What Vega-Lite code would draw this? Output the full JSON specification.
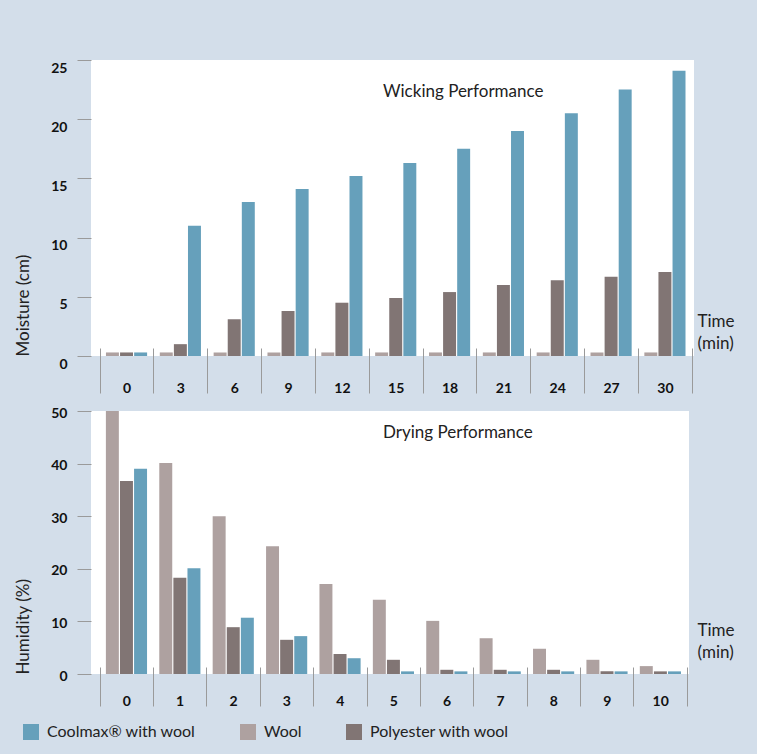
{
  "$schema": "https://vega.github.io/schema/vega-lite/v6.json",
  "background": "#d3deea",
  "padding": {"left": 14, "top": 59, "right": 30, "bottom": 20},
  "datasets": {
    "wicking": [
      {"time": 0, "fabric": "Coolmax® with wool", "value": 0.3},
      {"time": 0, "fabric": "Wool", "value": 0.3},
      {"time": 0, "fabric": "Polyester with wool", "value": 0.3},
      {"time": 3, "fabric": "Coolmax® with wool", "value": 11.0},
      {"time": 3, "fabric": "Wool", "value": 0.3},
      {"time": 3, "fabric": "Polyester with wool", "value": 1.0},
      {"time": 6, "fabric": "Coolmax® with wool", "value": 13.0},
      {"time": 6, "fabric": "Wool", "value": 0.3},
      {"time": 6, "fabric": "Polyester with wool", "value": 3.1},
      {"time": 9, "fabric": "Coolmax® with wool", "value": 14.1},
      {"time": 9, "fabric": "Wool", "value": 0.3},
      {"time": 9, "fabric": "Polyester with wool", "value": 3.8},
      {"time": 12, "fabric": "Coolmax® with wool", "value": 15.2},
      {"time": 12, "fabric": "Wool", "value": 0.3},
      {"time": 12, "fabric": "Polyester with wool", "value": 4.5},
      {"time": 15, "fabric": "Coolmax® with wool", "value": 16.3},
      {"time": 15, "fabric": "Wool", "value": 0.3},
      {"time": 15, "fabric": "Polyester with wool", "value": 4.9},
      {"time": 18, "fabric": "Coolmax® with wool", "value": 17.5},
      {"time": 18, "fabric": "Wool", "value": 0.3},
      {"time": 18, "fabric": "Polyester with wool", "value": 5.4},
      {"time": 21, "fabric": "Coolmax® with wool", "value": 19.0},
      {"time": 21, "fabric": "Wool", "value": 0.3},
      {"time": 21, "fabric": "Polyester with wool", "value": 6.0},
      {"time": 24, "fabric": "Coolmax® with wool", "value": 20.5},
      {"time": 24, "fabric": "Wool", "value": 0.3},
      {"time": 24, "fabric": "Polyester with wool", "value": 6.4},
      {"time": 27, "fabric": "Coolmax® with wool", "value": 22.5},
      {"time": 27, "fabric": "Wool", "value": 0.3},
      {"time": 27, "fabric": "Polyester with wool", "value": 6.7},
      {"time": 30, "fabric": "Coolmax® with wool", "value": 24.1},
      {"time": 30, "fabric": "Wool", "value": 0.3},
      {"time": 30, "fabric": "Polyester with wool", "value": 7.1}
    ],
    "drying": [
      {"time": 0, "fabric": "Wool", "value": 50},
      {"time": 0, "fabric": "Polyester with wool", "value": 36.7},
      {"time": 0, "fabric": "Coolmax® with wool", "value": 39.0},
      {"time": 1, "fabric": "Wool", "value": 40.1},
      {"time": 1, "fabric": "Polyester with wool", "value": 18.3},
      {"time": 1, "fabric": "Coolmax® with wool", "value": 20.1},
      {"time": 2, "fabric": "Wool", "value": 30.0},
      {"time": 2, "fabric": "Polyester with wool", "value": 8.9},
      {"time": 2, "fabric": "Coolmax® with wool", "value": 10.7},
      {"time": 3, "fabric": "Wool", "value": 24.3},
      {"time": 3, "fabric": "Polyester with wool", "value": 6.5},
      {"time": 3, "fabric": "Coolmax® with wool", "value": 7.2},
      {"time": 4, "fabric": "Wool", "value": 17.1},
      {"time": 4, "fabric": "Polyester with wool", "value": 3.8},
      {"time": 4, "fabric": "Coolmax® with wool", "value": 3.0},
      {"time": 5, "fabric": "Wool", "value": 14.1},
      {"time": 5, "fabric": "Polyester with wool", "value": 2.7},
      {"time": 5, "fabric": "Coolmax® with wool", "value": 0.5},
      {"time": 6, "fabric": "Wool", "value": 10.1},
      {"time": 6, "fabric": "Polyester with wool", "value": 0.8},
      {"time": 6, "fabric": "Coolmax® with wool", "value": 0.5},
      {"time": 7, "fabric": "Wool", "value": 6.8},
      {"time": 7, "fabric": "Polyester with wool", "value": 0.8},
      {"time": 7, "fabric": "Coolmax® with wool", "value": 0.5},
      {"time": 8, "fabric": "Wool", "value": 4.8},
      {"time": 8, "fabric": "Polyester with wool", "value": 0.8},
      {"time": 8, "fabric": "Coolmax® with wool", "value": 0.5},
      {"time": 9, "fabric": "Wool", "value": 2.7},
      {"time": 9, "fabric": "Polyester with wool", "value": 0.5},
      {"time": 9, "fabric": "Coolmax® with wool", "value": 0.5},
      {"time": 10, "fabric": "Wool", "value": 1.5},
      {"time": 10, "fabric": "Polyester with wool", "value": 0.5},
      {"time": 10, "fabric": "Coolmax® with wool", "value": 0.5}
    ]
  },
  "spacing": 11,
  "vconcat": [
    {
      "data": {"name": "wicking"},
      "width": 603,
      "height": 296,
      "title": {"text": "Wicking Performance", "anchor": "start", "frame": "group", "orient": "top", "offset": -15, "baseline": "top", "dx": 292, "dy": 26},
      "mark": {"type": "bar"},
      "encoding": {
        "x": {
          "field": "time", "type": "ordinal",
          "scale": {"paddingInner": 0, "paddingOuter": 0.1, "align": 0.8},
          "axis": {
            "title": ["Time", "(min)"], "titleX": 606, "titleY": -35,
            "offset": -8, "tickSize": 45
          }
        },
        "xOffset": {
          "field": "fabric",
          "scale": {"domain": ["Wool", "Polyester with wool", "Coolmax® with wool"], "paddingInner": 0.08, "paddingOuter": 0.45}
        },
        "y": {
          "field": "value", "type": "quantitative",
          "scale": {"domain": [0, 25]},
          "axis": {"title": "Moisture (cm)", "values": [0, 5, 10, 15, 20, 25], "labelOffset": 8}
        },
        "color": {
          "field": "fabric", "type": "nominal",
          "scale": {"domain": ["Coolmax® with wool", "Wool", "Polyester with wool"], "range": ["#66a0bb", "#aea1a0", "#817574"]},
          "legend": {"orient": "none", "legendX": -68, "legendY": 664, "direction": "horizontal", "title": null}
        }
      }
    },
    {
      "data": {"name": "drying"},
      "width": 598,
      "height": 263,
      "title": {"text": "Drying Performance", "anchor": "start", "frame": "group", "orient": "top", "offset": -13, "baseline": "top", "dx": 292, "dy": 23},
      "mark": {"type": "bar"},
      "encoding": {
        "x": {
          "field": "time", "type": "ordinal",
          "scale": {"paddingInner": 0, "paddingOuter": 0.1, "align": 0.8},
          "axis": {
            "title": ["Time", "(min)"], "titleX": 606, "titleY": -45,
            "offset": -7, "tickSize": 39
          }
        },
        "xOffset": {
          "field": "fabric",
          "scale": {"domain": ["Wool", "Polyester with wool", "Coolmax® with wool"], "paddingInner": 0.08, "paddingOuter": 0.45}
        },
        "y": {
          "field": "value", "type": "quantitative",
          "scale": {"domain": [0, 50]},
          "axis": {"title": "Humidity (%)", "values": [0, 10, 20, 30, 40, 50], "labelOffset": 2}
        },
        "color": {
          "field": "fabric", "type": "nominal",
          "scale": {"domain": ["Coolmax® with wool", "Wool", "Polyester with wool"], "range": ["#66a0bb", "#aea1a0", "#817574"]},
          "legend": {"orient": "none", "legendX": -68, "legendY": 664, "direction": "horizontal", "title": null}
        }
      }
    }
  ],
  "config": {
    "font": "Lato",
    "view": {"fill": "white", "stroke": null},
    "title": {"font": "Lato", "fontSize": 17, "fontWeight": "normal", "color": "#222222"},
    "axisX": {
      "labelAngle": 0, "labelFont": "Lato", "labelFontSize": 14, "labelFontWeight": "bold", "labelColor": "#111111",
      "labelPadding": -12, "tickBand": "extent", "tickColor": "#9a9a9a", "tickWidth": 1, "domain": false, "grid": false,
      "titleFont": "Lato", "titleFontSize": 17, "titleFontWeight": "normal", "titleColor": "#222222",
      "titleAlign": "left", "titleBaseline": "top", "titleAngle": 0, "titleLineHeight": 22
    },
    "axisY": {
      "labelFont": "Lato", "labelFontSize": 14, "labelFontWeight": "bold", "labelColor": "#111111",
      "labelPadding": 10, "tickSize": 14, "tickColor": "#9a9a9a", "tickWidth": 1, "domain": false, "grid": false,
      "titleFont": "Lato", "titleFontSize": 17, "titleFontWeight": "normal", "titleColor": "#222222",
      "titleAnchor": "start", "titlePadding": 18
    },
    "legend": {
      "symbolType": "square", "symbolSize": 256, "symbolStrokeWidth": 0, "symbolOpacity": 1,
      "labelFont": "Lato", "labelFontSize": 16, "labelColor": "#222222", "labelOffset": 8,
      "columnPadding": 44, "labelLimit": 300
    }
  }
}
